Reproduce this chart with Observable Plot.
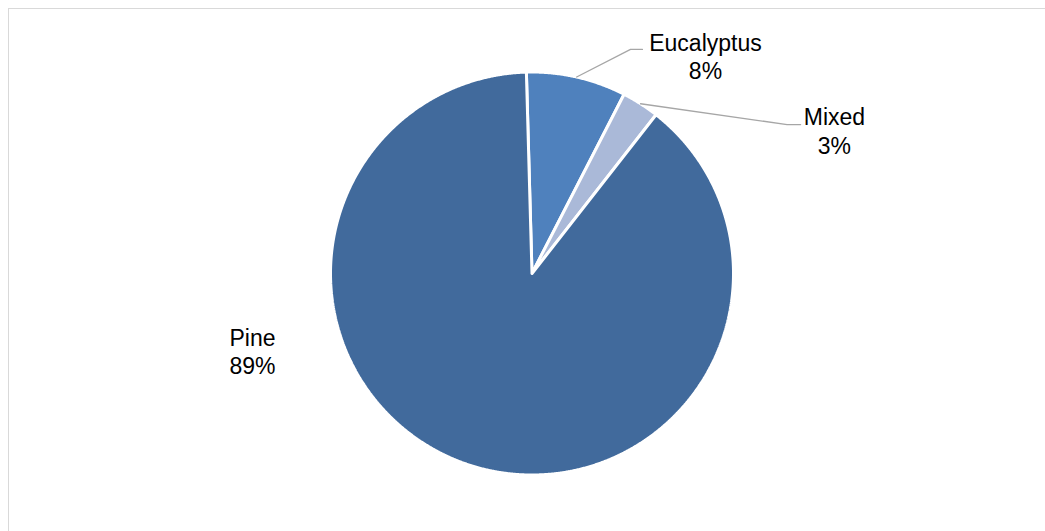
<!DOCTYPE html>
<html>
<head>
<meta charset="utf-8">
<script src="https://cdn.jsdelivr.net/npm/d3@7"></script>
<script src="https://cdn.jsdelivr.net/npm/@observablehq/plot@0.6"></script>
<style>
  html, body { margin: 0; padding: 0; background: #fff; }
  #chart { position: relative; width: 1045px; height: 531px; overflow: hidden; }
  #area { position: absolute; left: 8px; top: 8px; width: 1100px; height: 600px;
          border-left: 1.5px solid #d9d9d9; border-top: 1.5px solid #d9d9d9; box-sizing: border-box; }
  #chart svg { position: absolute; left: 0; top: 0; }
</style>
</head>
<body>
<div id="chart"><div id="area"></div></div>
<script>
// Forest plantation area by species group (share of total, %)
const species = ["Eucalyptus", "Mixed", "Pine"];
const shares = [8, 3, 89];
const sliceColors = ["#4f81bd", "#aab9d8", "#416a9c"];

// Layout: pie centre/radius in pixels, label anchors in pie-radius units
const W = 1045, H = 531;
const cx = 531.5, cy = 273, R = 201.5;
const startAngle = -1.6 * Math.PI / 180;
const labelLayout = {
  Eucalyptus: {text: [0.861, 1.081], elbow: [0.489, 1.112], end: [0.548, 1.112]},
  Mixed:      {text: [1.501, 0.711], elbow: [1.266, 0.739], end: [1.333, 0.739]},
  Pine:       {text: [-1.387, -0.383]}
};

const rows = species.map((name, i) => ({name, value: shares[i]}));
const arcs = d3.pie().sort(null).value(d => d.value).startAngle(startAngle)(rows);

// Slice outlines as closed polygons in unit coordinates (y up, angle clockwise from north)
const slicePts = [];
for (const a of arcs) {
  const name = a.data.name;
  slicePts.push({name, x: 0, y: 0});
  const n = Math.max(2, Math.ceil((a.endAngle - a.startAngle) / (0.25 * Math.PI / 180)));
  for (let k = 0; k <= n; k++) {
    const t = a.startAngle + (a.endAngle - a.startAngle) * k / n;
    slicePts.push({name, x: Math.sin(t), y: Math.cos(t)});
  }
  slicePts.push({name, x: 0, y: 0});
}

// Leader lines from each slice's mid-angle on the rim out to its label
const leaderPts = [];
for (const a of arcs) {
  const L = labelLayout[a.data.name];
  if (!L.elbow) continue;
  const m = (a.startAngle + a.endAngle) / 2;
  leaderPts.push({name: a.data.name, x: Math.sin(m), y: Math.cos(m)});
  leaderPts.push({name: a.data.name, x: L.elbow[0], y: L.elbow[1]});
  leaderPts.push({name: a.data.name, x: L.end[0], y: L.end[1]});
}

const labels = arcs.map(a => ({
  x: labelLayout[a.data.name].text[0],
  y: labelLayout[a.data.name].text[1],
  text: `${a.data.name}\n${a.data.value}%`
}));

const chart = Plot.plot({
  width: W,
  height: H,
  margin: 0,
  style: {fontFamily: "'Liberation Sans', Arial, sans-serif", background: "transparent"},
  x: {domain: [-1, 1], range: [cx - R, cx + R], axis: null},
  y: {domain: [-1, 1], range: [cy + R, cy - R], axis: null},
  color: {domain: species, range: sliceColors},
  marks: [
    Plot.line(slicePts, {
      x: "x", y: "y", z: "name", fill: "name",
      stroke: "white", strokeWidth: 3, strokeLinejoin: "miter"
    }),
    Plot.line(leaderPts, {x: "x", y: "y", z: "name", stroke: "#a6a6a6", strokeWidth: 1.3}),
    Plot.text(labels, {
      x: "x", y: "y", text: "text",
      fontSize: 23, lineHeight: 1.235, fill: "#000", textAnchor: "middle"
    })
  ]
});

document.getElementById("chart").appendChild(chart);
</script>
</body>
</html>
